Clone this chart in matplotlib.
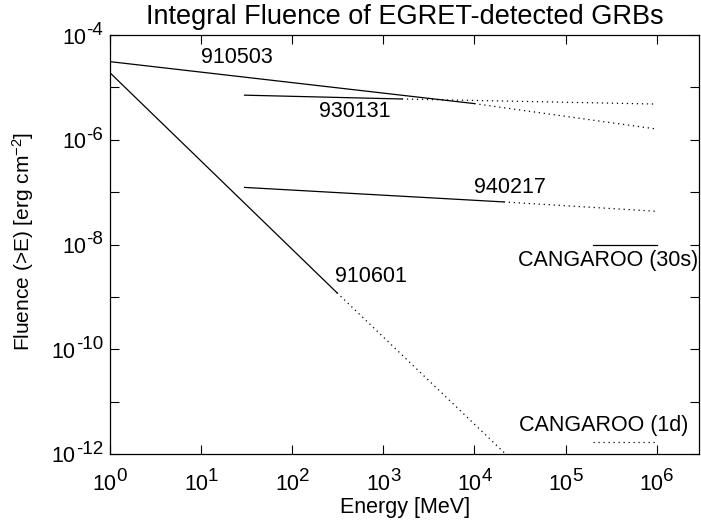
import matplotlib
matplotlib.use("Agg")
import matplotlib.pyplot as plt
import matplotlib.ticker as mticker
from matplotlib.font_manager import FontProperties

plt.rcParams['font.family'] = ['Liberation Sans', 'DejaVu Sans']

# burst fluence curves: solid (measured) then dotted (extrapolated)
grb_names = ["910503", "930131", "940217", "910601"]
solid_e = [[1, 1.0e4], [30, 1.6e3], [30, 2.1e4], [1, 310]]
solid_f = [[3.1e-5, 4.9e-6], [7.1e-6, 6.0e-6], [1.23e-7, 6.5e-8], [1.9e-5, 1.2e-9]]
dot_e = [[1.0e4, 1.0e6], [1.6e3, 1.0e6], [2.1e4, 1.0e6], [310, 2.2e4]]
dot_f = [[4.9e-6, 1.6e-6], [6.0e-6, 4.8e-6], [6.5e-8, 4.3e-8], [1.2e-9, 1.0e-12]]
label_e = [25, 490, 2.45e4, 724]
label_f = [2.93e-5, 2.72e-6, 9.66e-8, 1.93e-9]

# CANGAROO sensitivities
cang_names = ["CANGAROO (30s)", "CANGAROO (1d)"]
cang_e = [2.0e5, 1.0e6]
cang_f = [1.0e-8, 1.7e-12]
cang_label_e = [2.94e5, 2.65e5]
cang_label_f = [3.9e-9, 2.8e-12]

x_exps = [0, 1, 2, 3, 4, 5, 6]
y_exps = [-12, -10, -8, -6, -4]

FS = 15.5      # main text size
EXP_FS = 13.5  # exponent size

fig = plt.figure(figsize=(7.01, 5.21), dpi=100)
ax = fig.add_axes([110 / 701, 1 - 454 / 521, 589 / 701, 419 / 521])

for i in range(len(grb_names)):
    ax.plot(solid_e[i], solid_f[i], color='black', lw=0.9)
    ax.plot(dot_e[i], dot_f[i], color='black', lw=0.9, ls=(0, (1, 3)))
    ax.text(label_e[i], label_f[i], grb_names[i], fontsize=FS,
            ha='center', va='baseline')

ax.plot(cang_e, [cang_f[0]] * 2, color='black', lw=0.9)
ax.plot(cang_e, [cang_f[1]] * 2, color='black', lw=0.9, ls=(0, (1, 3)))
for i in range(2):
    ax.text(cang_label_e[i], cang_label_f[i], cang_names[i], fontsize=FS,
            ha='center', va='baseline')

ax.set_xscale('log')
ax.set_yscale('log')
ax.set_xlim(1, 2.92e6)
ax.set_ylim(1e-12, 1e-4)

ax.xaxis.set_major_locator(mticker.FixedLocator([10.0 ** k for k in x_exps]))
ax.xaxis.set_minor_locator(mticker.NullLocator())
ax.yaxis.set_major_locator(mticker.FixedLocator([10.0 ** k for k in range(-12, -3)]))
ax.yaxis.set_minor_locator(mticker.NullLocator())
ax.tick_params(which='both', direction='in', top=True, right=True,
               length=6.5, width=0.8, labelbottom=False, labelleft=False)
for s in ax.spines.values():
    s.set_linewidth(0.9)

# tick labels "10" with near full-size exponents, as in the original
renderer = fig.canvas.get_renderer()
fp_base = FontProperties(family=['Liberation Sans'], size=FS)
fp_exp = FontProperties(family=['Liberation Sans'], size=EXP_FS)
w10 = renderer.get_text_width_height_descent('10', fp_base, ismath=False)[0]

for k in x_exps:
    es = '%d' % k
    we = renderer.get_text_width_height_descent(es, fp_exp, ismath=False)[0]
    left = -(w10 + we) / 2
    ax.annotate('10', xy=(10.0 ** k, 0), xycoords=('data', 'axes fraction'),
                xytext=(left, -36), textcoords='offset pixels',
                fontsize=FS, ha='left', va='baseline')
    ax.annotate(es, xy=(10.0 ** k, 0), xycoords=('data', 'axes fraction'),
                xytext=(left + w10, -27), textcoords='offset pixels',
                fontsize=EXP_FS, ha='left', va='baseline')

for k in y_exps:
    es = '-%d' % (-k)
    we = renderer.get_text_width_height_descent(es, fp_exp, ismath=False)[0]
    ax.annotate(es, xy=(0, 10.0 ** k), xycoords=('axes fraction', 'data'),
                xytext=(-7, 0), textcoords='offset pixels',
                fontsize=EXP_FS, ha='right', va='baseline')
    ax.annotate('10', xy=(0, 10.0 ** k), xycoords=('axes fraction', 'data'),
                xytext=(-7 - we, -8.5), textcoords='offset pixels',
                fontsize=FS, ha='right', va='baseline')

fig.text(405 / 701, 1 - 513 / 521, 'Energy [MeV]', fontsize=FS,
         ha='center', va='baseline')
fig.text(36 / 701, 1 - 241 / 521, r'Fluence (>E) [erg cm$\mathregular{^{-2}}$]',
         fontsize=15, rotation=90, ha='right', va='center')
fig.text(405 / 701, 1 - 24 / 521, 'Integral Fluence of EGRET-detected GRBs',
         fontsize=19.5, ha='center', va='baseline')

fig.savefig('out.png', dpi=100)
